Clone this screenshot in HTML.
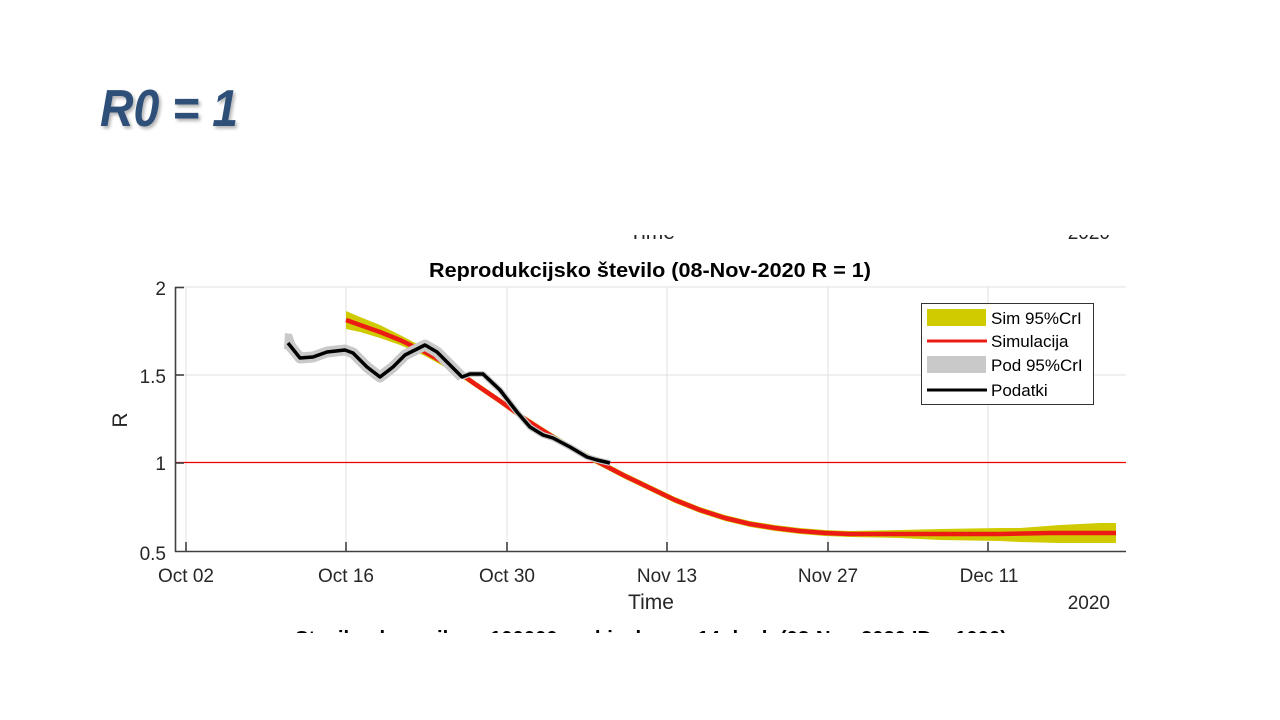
<!DOCTYPE html>
<html>
<head>
<meta charset="utf-8">
<style>
  html, body { margin:0; padding:0; background:#ffffff; }
  body { width:1280px; height:720px; overflow:hidden; }
  svg { display:block; }
  text { font-family: "Liberation Sans", Arial, sans-serif; }
</style>
</head>
<body>
<svg width="1280" height="720" viewBox="0 0 1280 720" xmlns="http://www.w3.org/2000/svg">
  <defs>
    <clipPath id="fig">
      <rect x="0" y="235" width="1280" height="398"/>
    </clipPath>
    <filter id="sh" x="-10%" y="-10%" width="130%" height="140%">
      <feGaussianBlur in="SourceAlpha" stdDeviation="1.5"/>
      <feOffset dx="2" dy="2.5" result="o"/>
      <feComponentTransfer><feFuncA type="linear" slope="0.3"/></feComponentTransfer>
      <feMerge><feMergeNode/><feMergeNode in="SourceGraphic"/></feMerge>
    </filter>
  </defs>

  <!-- Slide heading -->
  <text x="100" y="126" font-size="52" font-weight="bold" font-style="italic" fill="#2d4f78" textLength="138" lengthAdjust="spacingAndGlyphs" filter="url(#sh)">R0 = 1</text>

  <g clip-path="url(#fig)">
    <!-- cut-off text from the previous chart above -->
    <text x="652" y="239" font-size="21" fill="#262626" text-anchor="middle">Time</text>
    <text x="1110" y="239" font-size="19" fill="#262626" text-anchor="end">2020</text>

    <!-- Title -->
    <text x="650" y="277" font-size="20.5" font-weight="bold" fill="#000" text-anchor="middle" textLength="442" lengthAdjust="spacingAndGlyphs">Reprodukcijsko število (08-Nov-2020 R = 1)</text>

    <!-- grid -->
    <g stroke="#e1e1e1" stroke-width="1">
      <line x1="186" y1="287" x2="186" y2="551"/>
      <line x1="346" y1="287" x2="346" y2="551"/>
      <line x1="507" y1="287" x2="507" y2="551"/>
      <line x1="667" y1="287" x2="667" y2="551"/>
      <line x1="828" y1="287" x2="828" y2="551"/>
      <line x1="988" y1="287" x2="988" y2="551"/>
      <line x1="175" y1="287" x2="1126" y2="287"/>
      <line x1="175" y1="375" x2="1126" y2="375"/>
    </g>

    <!-- R = 1 line -->
    <line x1="175" y1="462.5" x2="1126" y2="462.5" stroke="#ee0000" stroke-width="1.2"/>

    <!-- Simulation band (yellow) -->
    <polygon fill="#cfcb00" points="
      346,311 360,317 380,325 400,335 425,348 450,363 475,381 500,398 525,416 550,432 575,447 600,460 625,473 650,485 675,497 700,507 725,515 750,521 775,525 800,528 825,530 850,531 900,530 940,529 1000,528 1020,528 1060,525 1100,523 1116,523
      1116,543 1100,543 1060,543 1020,542 1000,541 940,540 900,538 850,537 825,536 800,534 775,531 750,527 725,521 700,513 675,503 650,491 625,479 600,466 575,453 550,438 525,422 500,404 475,387 450,370 425,356 400,345 380,338 360,332 346,329"/>

    <!-- Simulation line (red) -->
    <polyline fill="none" stroke="#ec1c15" stroke-width="4.5" stroke-linejoin="round"
      points="346,320 360,325 380,332 400,340 425,352 450,366 475,384 500,401 525,419 550,435 575,450 600,463 625,476 650,488 675,500 700,510 725,518 750,524 775,528 800,531 825,533 850,534 900,534 950,534 1000,534 1050,533 1100,533 1116,533"/>

    <!-- Data band (gray) -->
    <polygon fill="#c9c9c9" points="285,333 292,334 298,352 284,349"/>
    <polyline fill="none" stroke="#c9c9c9" stroke-width="11" stroke-linejoin="round"
      points="288,343 300,358 313,357 327,352 345,350 353,353 367,367 380,377 393,367 405,355 425,345 437,352 450,365 462,377"/>
    <polyline fill="none" stroke="#c9c9c9" stroke-width="6" stroke-linejoin="round"
      points="462,377 470,374 483,374 500,390 517,412 530,427 543,435 553,438 570,447 587,457 597,460 610,463"/>

    <!-- Data line (black) -->
    <polyline fill="none" stroke="#000" stroke-width="3.5" stroke-linejoin="round"
      points="288,343 300,358 313,357 327,352 345,350 353,353 367,367 380,377 393,367 405,355 425,345 437,352 450,365 462,377 470,374 483,374 500,390 517,412 530,427 543,435 553,438 570,447 587,457 597,460 610,463"/>

    <!-- axes -->
    <g stroke="#404040" stroke-width="1.6" fill="none">
      <line x1="175.5" y1="287" x2="175.5" y2="552"/>
      <line x1="175" y1="551.5" x2="1126" y2="551.5"/>
      <line x1="175" y1="287.5" x2="184" y2="287.5"/>
      <line x1="175" y1="375" x2="184" y2="375"/>
      <line x1="175" y1="463" x2="184" y2="463"/>
      <line x1="186" y1="551" x2="186" y2="542"/>
      <line x1="346" y1="551" x2="346" y2="542"/>
      <line x1="507" y1="551" x2="507" y2="542"/>
      <line x1="667" y1="551" x2="667" y2="542"/>
      <line x1="828" y1="551" x2="828" y2="542"/>
      <line x1="988" y1="551" x2="988" y2="542"/>
    </g>

    <!-- y tick labels -->
    <g font-size="19" fill="#262626" text-anchor="end">
      <text x="166" y="295">2</text>
      <text x="166" y="383">1.5</text>
      <text x="166" y="470">1</text>
      <text x="166" y="560">0.5</text>
    </g>
    <!-- x tick labels -->
    <g font-size="19" fill="#262626" text-anchor="middle">
      <text x="186" y="582">Oct 02</text>
      <text x="346" y="582">Oct 16</text>
      <text x="507" y="582">Oct 30</text>
      <text x="667" y="582">Nov 13</text>
      <text x="828" y="582">Nov 27</text>
      <text x="989" y="582">Dec 11</text>
    </g>
    <text x="651" y="609" font-size="21" fill="#262626" text-anchor="middle">Time</text>
    <text x="1110" y="609" font-size="19" fill="#262626" text-anchor="end">2020</text>
    <text transform="translate(127,420) rotate(-90)" font-size="21" fill="#262626" text-anchor="middle">R</text>

    <!-- Legend -->
    <rect x="921.5" y="303.5" width="172" height="101" fill="#ffffff" stroke="#333" stroke-width="1"/>
    <rect x="927" y="309" width="59" height="17" fill="#cfcb00"/>
    <line x1="927" y1="341" x2="987" y2="341" stroke="#ec1c15" stroke-width="3"/>
    <rect x="927" y="356" width="59" height="17" fill="#c9c9c9"/>
    <line x1="927" y1="390" x2="987" y2="390" stroke="#000" stroke-width="3"/>
    <g font-size="17" fill="#000">
      <text x="991" y="324">Sim 95%CrI</text>
      <text x="991" y="347">Simulacija</text>
      <text x="991" y="371">Pod 95%CrI</text>
      <text x="991" y="396">Podatki</text>
    </g>

    <!-- cut-off title of the next chart -->
    <text x="295" y="645" font-size="20" font-weight="bold" fill="#000" textLength="712" lengthAdjust="spacingAndGlyphs">Stevilo okuzenih na 100000 prebivalcev v 14 dneh (08-Nov-2020 ID = 1000)</text>
  </g>
</svg>
</body>
</html>
